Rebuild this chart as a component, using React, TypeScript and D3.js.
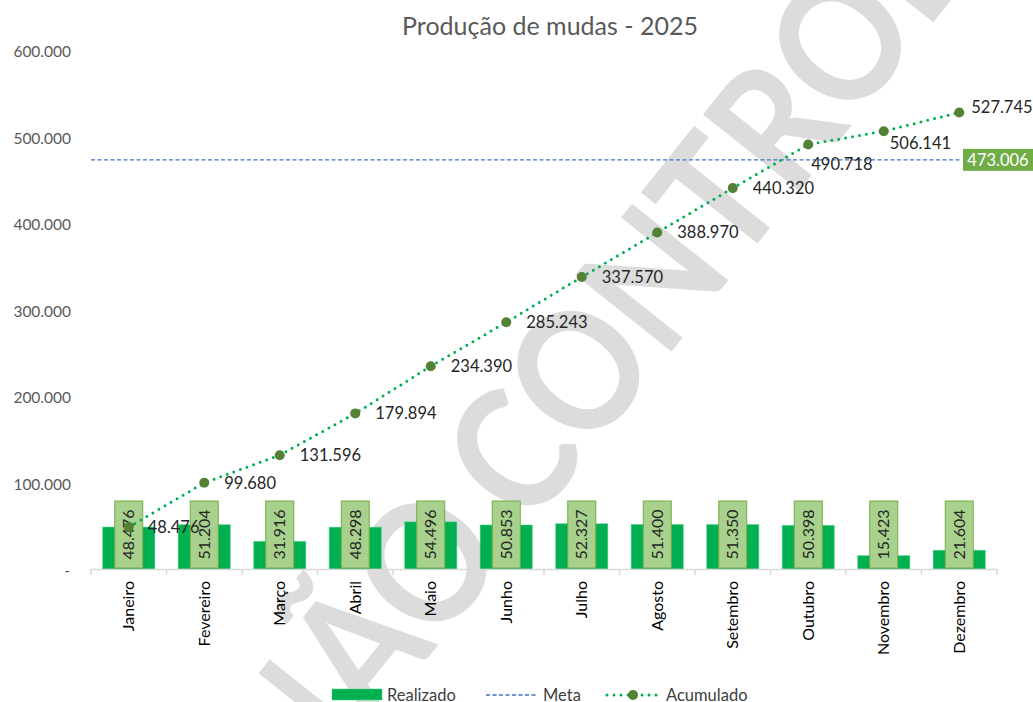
import React from 'react';
import * as d3 from 'd3';

const months = ['Janeiro', 'Fevereiro', 'Março', 'Abril', 'Maio', 'Junho', 'Julho', 'Agosto', 'Setembro', 'Outubro', 'Novembro', 'Dezembro'];
const realizado = [48476, 51204, 31916, 48298, 54496, 50853, 52327, 51400, 51350, 50398, 15423, 21604];
const acumulado = [48476, 99680, 131596, 179894, 234390, 285243, 337570, 388970, 440320, 490718, 506141, 527745];
const metaValue = 473006;
const yTicks = [0, 100000, 200000, 300000, 400000, 500000, 600000];
const title = 'Produção de mudas - 2025';
const watermarkLeft = 'CÓPIA NÃO';
const watermarkRight = 'CONTROLADA';

// label offsets for the cumulative series (style, not data)
const accLabelOffsets: [number, number][] = [
  [19, 0], [20, 0], [20, 0], [20, 0], [20, 0], [20, 0], [20, 0], [20, 0], [20, 0], [3, 20], [6, 12], [12, -5],
];

const W = 1033;
const H = 702;
const FONT = 'Lato, Carlito, Calibri, sans-serif';

const locale = d3.formatLocale({ decimal: ',', thousands: '.', grouping: [3], currency: ['R$', ''] });
const fmt = locale.format(',d');
const fmtAxis = (v: number) => (v === 0 ? '-' : fmt(v));

export default function App() {
  const x = d3.scaleBand<string>().domain(months).range([91, 997]).paddingInner(0.31).paddingOuter(0.155);
  const y = d3.scaleLinear().domain([0, 600000]).range([569, 50]);
  const cx = (m: string) => (x(m) as number) + x.bandwidth() / 2;
  const step = x.step();
  const line = d3.line<number>().x((_, i) => cx(months[i])).y((d) => y(d));

  const boxTop = y(0) - 68;
  const wmAngle = -51.5;
  const wmX = 472;
  const wmY = 504;

  return (
    <div style={{ position: 'absolute', left: 0, top: 0 }}>
      <svg width={W} height={H} style={{ display: 'block', background: '#fff' }} fontFamily={FONT}>
        <g transform={`translate(${wmX},${wmY}) rotate(${wmAngle}) scale(0.88,1)`} fontFamily={FONT} fontWeight="bold" fontSize={170} fill="#dcdcdc">
          <text x={-16} y={0} dy="0.36em" textAnchor="end">{watermarkLeft}</text>
          <text x={16} y={0} dy="0.36em" textAnchor="start">{watermarkRight}</text>
        </g>

        <text x={550} y={35} textAnchor="middle" fontSize={25} fill="#595959">{title}</text>

        {yTicks.map((t) => (
          <text key={t} x={t === 0 ? 70 : 71} y={y(t) + 2} dy="0.35em" textAnchor="end" fontSize={15.5} fill="#595959">
            {fmtAxis(t)}
          </text>
        ))}

        {/* bars */}
        {months.map((m, i) => (
          <rect
            key={m}
            x={x(m)}
            y={y(realizado[i])}
            width={x.bandwidth()}
            height={y(0) - y(realizado[i])}
            fill="#00b050"
            stroke="#3fd07c"
            strokeWidth={1}
            strokeDasharray="1 1"
          />
        ))}

        {/* axis line */}
        <line x1={91} x2={997} y1={y(0) + 0.5} y2={y(0) + 0.5} stroke="#d9d9d9" strokeWidth={1.5} />
        {d3.range(13).map((k) => (
          <line key={k} x1={91 + k * step} x2={91 + k * step} y1={y(0)} y2={y(0) + 6} stroke="#d9d9d9" strokeWidth={1.5} />
        ))}

        {/* bar labels */}
        {months.map((m, i) => (
          <g key={m}>
            <rect x={cx(m) - 14} y={boxTop} width={28} height={67} fill="#a9d18e" stroke="#70ad47" strokeWidth={1} />
            <text
              transform={`translate(${cx(m)},${boxTop + 33.5}) rotate(-90)`}
              textAnchor="middle"
              dy="0.35em"
              fontSize={16}
              fill="#262626"
            >
              {fmt(realizado[i])}
            </text>
          </g>
        ))}

        {/* category labels */}
        {months.map((m) => (
          <text
            key={m}
            transform={`translate(${cx(m)},${y(0) + 12}) rotate(-90)`}
            textAnchor="end"
            dy="0.35em"
            fontSize={16}
            fill="#000"
          >
            {m}
          </text>
        ))}

        {/* meta */}
        <line x1={91} x2={962} y1={y(metaValue)} y2={y(metaValue)} stroke="#4472c4" strokeWidth={1.3} strokeDasharray="4 2.5" />
        <rect x={963} y={y(metaValue) - 11} width={70} height={22} fill="#70ad47" />
        <text x={998} y={y(metaValue)} dy="0.35em" textAnchor="middle" fontSize={16.5} fill="#fff">{fmt(metaValue)}</text>

        {/* cumulative line */}
        <path d={line(acumulado) || ''} fill="none" stroke="#00b050" strokeWidth={3} strokeLinecap="round" strokeDasharray="0 7" />
        {acumulado.map((v, i) => (
          <circle key={i} cx={cx(months[i])} cy={y(v)} r={5} fill="#548235" />
        ))}
        {acumulado.map((v, i) => (
          <text
            key={i}
            x={cx(months[i]) + accLabelOffsets[i][0]}
            y={y(v) + accLabelOffsets[i][1]}
            dy="0.35em"
            fontSize={16.5}
            fill="#262626"
          >
            {fmt(v)}
          </text>
        ))}

        {/* legend */}
        <g fontSize={16.5} fill="#404040">
          <rect x={332} y={689} width={50} height={11} fill="#00b050" stroke="#3fd07c" strokeDasharray="1 1" />
          <text x={387} y={695} dy="0.35em">Realizado</text>
          <line x1={486} x2={537} y1={695} y2={695} stroke="#4472c4" strokeWidth={1.3} strokeDasharray="4 2.5" />
          <text x={543} y={695} dy="0.35em">Meta</text>
          <line x1={607} x2={660} y1={695} y2={695} stroke="#00b050" strokeWidth={3} strokeLinecap="round" strokeDasharray="0 7" />
          <circle cx={633} cy={695} r={5} fill="#548235" />
          <text x={666} y={695} dy="0.35em">Acumulado</text>
        </g>
      </svg>
    </div>
  );
}
